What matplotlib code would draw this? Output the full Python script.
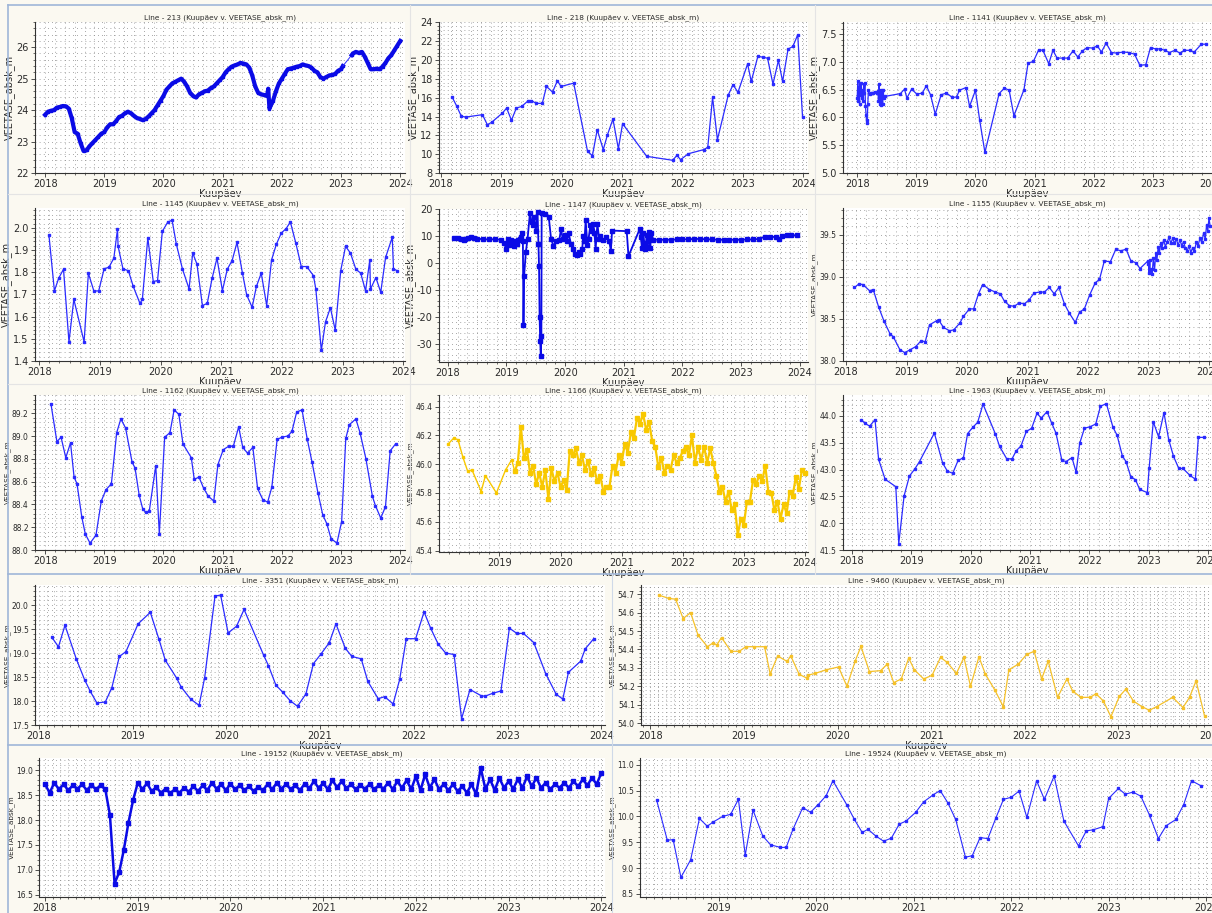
import numpy as np
import matplotlib
matplotlib.use("Agg")
import matplotlib.pyplot as plt
from matplotlib.lines import Line2D
from matplotlib.ticker import MultipleLocator, AutoMinorLocator, FormatStrFormatter

W, H = 1212, 913

# ---- data: (decimal year, VEETASE_absk_m) ----
line213_a = [(2018.00, 23.85), (2018.05, 23.95), (2018.10, 23.98), (2018.15, 24.0), (2018.20, 24.08),
             (2018.25, 24.1), (2018.30, 24.13), (2018.35, 24.12), (2018.40, 24.05), (2018.45, 23.75),
             (2018.50, 23.3), (2018.55, 23.25), (2018.60, 22.95), (2018.65, 22.7), (2018.70, 22.72),
             (2018.75, 22.85), (2018.80, 22.95), (2018.85, 23.05), (2018.90, 23.15), (2018.95, 23.25),
             (2019.00, 23.3), (2019.05, 23.45), (2019.10, 23.55), (2019.15, 23.55), (2019.20, 23.65),
             (2019.25, 23.78), (2019.30, 23.82), (2019.35, 23.9), (2019.40, 23.95), (2019.45, 23.9),
             (2019.50, 23.82), (2019.55, 23.75), (2019.60, 23.72), (2019.65, 23.68), (2019.70, 23.72),
             (2019.75, 23.8), (2019.80, 23.9), (2019.85, 24.0), (2019.90, 24.15), (2019.95, 24.3),
             (2020.00, 24.45), (2020.05, 24.65), (2020.10, 24.75), (2020.15, 24.85), (2020.20, 24.9),
             (2020.25, 24.95), (2020.30, 25.0), (2020.35, 24.9), (2020.40, 24.75), (2020.45, 24.55),
             (2020.50, 24.45), (2020.55, 24.4), (2020.60, 24.5), (2020.65, 24.55), (2020.70, 24.6),
             (2020.75, 24.62), (2020.80, 24.7), (2020.85, 24.75), (2020.90, 24.85), (2020.95, 24.95),
             (2021.00, 25.05), (2021.05, 25.2), (2021.10, 25.3), (2021.15, 25.38), (2021.20, 25.42),
             (2021.25, 25.45), (2021.30, 25.5), (2021.35, 25.48), (2021.40, 25.45), (2021.45, 25.35),
             (2021.50, 25.1), (2021.55, 24.75), (2021.60, 24.55), (2021.65, 24.5), (2021.70, 24.48),
             (2021.75, 24.45), (2021.77, 24.68), (2021.79, 24.05), (2021.85, 24.3), (2021.90, 24.6),
             (2021.95, 24.85), (2022.00, 25.0), (2022.05, 25.15), (2022.10, 25.3), (2022.15, 25.32),
             (2022.20, 25.35), (2022.25, 25.38), (2022.30, 25.4), (2022.35, 25.45), (2022.40, 25.42),
             (2022.45, 25.4), (2022.50, 25.35), (2022.55, 25.25), (2022.60, 25.2), (2022.65, 25.05),
             (2022.70, 25.0), (2022.75, 25.05), (2022.80, 25.1), (2022.85, 25.12), (2022.90, 25.15),
             (2022.95, 25.25), (2023.00, 25.3), (2023.03, 25.4)]
line213_b = [(2023.18, 25.75), (2023.20, 25.8), (2023.25, 25.85), (2023.30, 25.82), (2023.35, 25.85),
             (2023.40, 25.7), (2023.45, 25.5), (2023.50, 25.3), (2023.55, 25.3), (2023.60, 25.32),
             (2023.65, 25.3), (2023.70, 25.38), (2023.75, 25.5), (2023.80, 25.65), (2023.85, 25.75),
             (2023.90, 25.9), (2023.95, 26.05), (2024.00, 26.2)]

line218 = [(2018.19, 16.04), (2018.26, 15.15), (2018.34, 14.02), (2018.42, 13.95), (2018.69, 14.2),
           (2018.77, 13.13), (2018.84, 13.38), (2019.02, 14.37), (2019.09, 14.9), (2019.17, 13.6),
           (2019.25, 14.9), (2019.34, 15.08), (2019.45, 15.7), (2019.5, 15.7), (2019.58, 15.4),
           (2019.68, 15.4), (2019.75, 17.2), (2019.85, 16.6), (2019.93, 17.8), (2019.99, 17.2),
           (2020.2, 17.55), (2020.43, 10.3), (2020.51, 9.84), (2020.59, 12.6), (2020.69, 10.48),
           (2020.76, 12.07), (2020.85, 13.73), (2020.94, 10.58), (2021.01, 13.24), (2021.41, 9.77),
           (2021.84, 9.35), (2021.91, 9.88), (2021.97, 9.42), (2022.1, 10.05), (2022.35, 10.48),
           (2022.42, 10.72), (2022.5, 16.04), (2022.58, 11.54), (2022.76, 16.3), (2022.84, 17.38),
           (2022.92, 16.57), (2023.08, 19.6), (2023.14, 17.73), (2023.25, 20.4), (2023.34, 20.3),
           (2023.41, 20.2), (2023.5, 17.45), (2023.59, 19.96), (2023.66, 17.73), (2023.75, 21.17),
           (2023.83, 21.45), (2023.91, 22.7), (2023.99, 13.9)]

line1141 = [(2018.00, 6.35), (2018.01, 6.65), (2018.02, 6.3), (2018.03, 6.55), (2018.04, 6.25),
            (2018.05, 6.6), (2018.06, 6.4), (2018.07, 6.62), (2018.08, 6.35), (2018.09, 6.5),
            (2018.10, 6.3), (2018.11, 6.6), (2018.12, 6.45), (2018.13, 6.62), (2018.14, 6.2),
            (2018.15, 6.05), (2018.16, 5.9), (2018.17, 5.95), (2018.18, 6.25), (2018.19, 6.5),
            (2018.21, 6.42), (2018.24, 6.45), (2018.27, 6.45), (2018.30, 6.46), (2018.33, 6.45),
            (2018.35, 6.48), (2018.36, 6.3), (2018.37, 6.6), (2018.38, 6.45), (2018.39, 6.25),
            (2018.40, 6.5), (2018.41, 6.22), (2018.42, 6.48), (2018.43, 6.25), (2018.44, 6.5),
            (2018.45, 6.35), (2018.47, 6.38), (2018.73, 6.43), (2018.8, 6.51), (2018.84, 6.35),
            (2018.92, 6.51), (2019.01, 6.42), (2019.1, 6.44), (2019.17, 6.57), (2019.24, 6.41),
            (2019.32, 6.06), (2019.42, 6.41), (2019.51, 6.44), (2019.61, 6.36), (2019.68, 6.37),
            (2019.73, 6.49), (2019.84, 6.54), (2019.9, 6.2), (2020.0, 6.49), (2020.07, 5.96),
            (2020.16, 5.37), (2020.4, 6.43), (2020.49, 6.53), (2020.57, 6.49), (2020.65, 6.03),
            (2020.82, 6.5), (2020.89, 6.98), (2020.98, 7.01), (2021.07, 7.22), (2021.14, 7.21),
            (2021.24, 6.97), (2021.31, 7.21), (2021.38, 7.07), (2021.48, 7.07), (2021.56, 7.07),
            (2021.65, 7.2), (2021.73, 7.09), (2021.81, 7.2), (2021.89, 7.26), (2021.98, 7.25),
            (2022.06, 7.29), (2022.13, 7.18), (2022.21, 7.34), (2022.3, 7.17), (2022.39, 7.16),
            (2022.5, 7.18), (2022.6, 7.17), (2022.69, 7.14), (2022.78, 6.94), (2022.88, 6.95),
            (2022.96, 7.26), (2023.06, 7.23), (2023.12, 7.24), (2023.2, 7.21), (2023.28, 7.17),
            (2023.37, 7.21), (2023.46, 7.16), (2023.53, 7.21), (2023.62, 7.21), (2023.7, 7.18),
            (2023.82, 7.32), (2023.9, 7.32)]

line1145 = [(2018.16, 1.967), (2018.25, 1.716), (2018.32, 1.773), (2018.4, 1.814), (2018.49, 1.486),
            (2018.57, 1.678), (2018.74, 1.486), (2018.81, 1.796), (2018.9, 1.716), (2018.98, 1.716),
            (2019.07, 1.816), (2019.15, 1.823), (2019.23, 1.864), (2019.29, 1.995), (2019.3, 1.917),
            (2019.38, 1.816), (2019.47, 1.807), (2019.55, 1.736), (2019.66, 1.66), (2019.7, 1.678),
            (2019.79, 1.955), (2019.88, 1.758), (2019.95, 1.763), (2020.03, 1.985), (2020.12, 2.027),
            (2020.19, 2.035), (2020.26, 1.927), (2020.36, 1.816), (2020.47, 1.725), (2020.53, 1.887),
            (2020.6, 1.837), (2020.69, 1.65), (2020.77, 1.66), (2020.85, 1.773), (2020.93, 1.864),
            (2021.02, 1.717), (2021.1, 1.814), (2021.18, 1.853), (2021.26, 1.935), (2021.35, 1.796),
            (2021.42, 1.698), (2021.51, 1.642), (2021.58, 1.736), (2021.66, 1.796), (2021.75, 1.65),
            (2021.83, 1.856), (2021.91, 1.927), (2021.99, 1.977), (2022.07, 1.997), (2022.14, 2.027),
            (2022.23, 1.932), (2022.32, 1.826), (2022.41, 1.826), (2022.52, 1.785), (2022.56, 1.725),
            (2022.65, 1.448), (2022.72, 1.577), (2022.8, 1.64), (2022.88, 1.539), (2022.97, 1.807),
            (2023.05, 1.917), (2023.13, 1.887), (2023.22, 1.814), (2023.3, 1.796), (2023.38, 1.716),
            (2023.45, 1.856), (2023.46, 1.724), (2023.55, 1.776), (2023.63, 1.71), (2023.71, 1.867),
            (2023.82, 1.958), (2023.84, 1.816), (2023.9, 1.807)]

line1147 = [(2018.11, 9.3), (2018.17, 9.3), (2018.22, 9.0), (2018.27, 8.4), (2018.3, 8.9), (2018.35, 9.3),
            (2018.4, 9.5), (2018.45, 9.2), (2018.5, 9.0), (2018.6, 8.8), (2018.7, 8.7), (2018.8, 8.8),
            (2018.9, 8.6), (2018.95, 7.5), (2019.0, 5.3), (2019.02, 8.8), (2019.05, 6.8), (2019.08, 8.5),
            (2019.1, 7.5), (2019.13, 6.2), (2019.15, 8.0), (2019.18, 7.0), (2019.2, 8.5), (2019.23, 9.0),
            (2019.25, 9.8), (2019.27, 11.0), (2019.28, 8.0), (2019.29, -23.0), (2019.3, -5.0),
            (2019.33, 4.0), (2019.36, 9.0), (2019.4, 18.5), (2019.43, 15.0), (2019.45, 14.0),
            (2019.47, 17.0), (2019.5, 12.0), (2019.53, 19.0), (2019.545, 7.0), (2019.555, -1.0),
            (2019.565, -20.0), (2019.575, -29.0), (2019.585, -34.5), (2019.595, -27.0), (2019.6, 18.5),
            (2019.65, 18.0), (2019.72, 17.2), (2019.76, 9.0), (2019.8, 6.3), (2019.85, 8.0),
            (2019.9, 8.5), (2019.93, 12.5), (2019.96, 9.0), (2020.0, 10.5), (2020.03, 8.0),
            (2020.06, 11.0), (2020.1, 7.0), (2020.13, 5.0), (2020.16, 3.5), (2020.2, 3.0), (2020.23, 4.0),
            (2020.26, 3.2), (2020.29, 5.0), (2020.31, 10.0), (2020.33, 8.0), (2020.35, 15.8),
            (2020.38, 6.5), (2020.4, 9.0), (2020.43, 14.0), (2020.45, 12.0), (2020.48, 14.5),
            (2020.5, 11.0), (2020.52, 5.2), (2020.55, 14.5), (2020.58, 9.0), (2020.6, 10.0),
            (2020.65, 8.5), (2020.7, 9.5), (2020.75, 8.2), (2020.78, 4.5), (2020.8, 12.0),
            (2021.05, 11.8), (2021.08, 2.5), (2021.27, 12.5), (2021.29, 9.5), (2021.31, 5.5),
            (2021.33, 11.0), (2021.35, 7.5), (2021.37, 5.0), (2021.39, 10.5), (2021.41, 6.0),
            (2021.43, 11.5), (2021.45, 5.5), (2021.47, 11.0), (2021.5, 8.6), (2021.6, 8.6),
            (2021.7, 8.6), (2021.8, 8.6), (2021.9, 8.7), (2022.0, 8.7), (2022.1, 8.8), (2022.2, 8.9),
            (2022.3, 8.9), (2022.4, 8.8), (2022.5, 8.7), (2022.6, 8.6), (2022.7, 8.6), (2022.8, 8.6),
            (2022.9, 8.6), (2023.0, 8.6), (2023.1, 8.7), (2023.2, 8.7), (2023.3, 8.9), (2023.4, 9.7),
            (2023.5, 9.8), (2023.6, 9.5), (2023.65, 8.8), (2023.7, 10.0), (2023.78, 10.2),
            (2023.85, 10.2), (2023.95, 10.3)]

line1155 = [(2018.14, 38.875), (2018.21, 38.915), (2018.28, 38.91), (2018.39, 38.835), (2018.45, 38.85),
            (2018.54, 38.64), (2018.63, 38.47), (2018.73, 38.32), (2018.78, 38.29), (2018.89, 38.135),
            (2018.97, 38.1), (2019.05, 38.13), (2019.15, 38.17), (2019.24, 38.24), (2019.31, 38.23),
            (2019.38, 38.43), (2019.5, 38.48), (2019.53, 38.49), (2019.61, 38.4), (2019.71, 38.36),
            (2019.78, 38.37), (2019.88, 38.45), (2019.94, 38.53), (2020.04, 38.62), (2020.11, 38.62),
            (2020.19, 38.8), (2020.26, 38.91), (2020.37, 38.85), (2020.47, 38.82), (2020.55, 38.8),
            (2020.62, 38.71), (2020.7, 38.66), (2020.78, 38.65), (2020.86, 38.69), (2020.95, 38.68),
            (2021.03, 38.73), (2021.11, 38.81), (2021.2, 38.82), (2021.28, 38.82), (2021.36, 38.875),
            (2021.44, 38.8), (2021.52, 38.875), (2021.61, 38.68), (2021.69, 38.57), (2021.79, 38.46),
            (2021.86, 38.58), (2021.94, 38.62), (2022.03, 38.79), (2022.12, 38.93), (2022.19, 38.97),
            (2022.27, 39.19), (2022.37, 39.18), (2022.46, 39.33), (2022.54, 39.31), (2022.63, 39.33),
            (2022.71, 39.19), (2022.79, 39.17), (2022.86, 39.1), (2022.99, 39.19),
            (2023.00, 39.15), (2023.01, 39.05), (2023.02, 39.2), (2023.03, 39.08), (2023.05, 39.1),
            (2023.06, 39.04), (2023.08, 39.22), (2023.10, 39.08), (2023.12, 39.28), (2023.14, 39.2),
            (2023.16, 39.36), (2023.18, 39.28), (2023.20, 39.4), (2023.22, 39.34), (2023.25, 39.44),
            (2023.28, 39.36), (2023.31, 39.42), (2023.34, 39.47), (2023.37, 39.4), (2023.40, 39.46),
            (2023.43, 39.4), (2023.46, 39.45), (2023.49, 39.38), (2023.52, 39.44), (2023.55, 39.37),
            (2023.58, 39.42), (2023.61, 39.34), (2023.64, 39.31), (2023.67, 39.37), (2023.70, 39.29),
            (2023.73, 39.35), (2023.76, 39.31), (2023.79, 39.41), (2023.82, 39.37), (2023.85, 39.46),
            (2023.88, 39.41), (2023.91, 39.52), (2023.94, 39.45), (2023.96, 39.62), (2023.98, 39.55),
            (2024.00, 39.7), (2024.02, 39.6)]

line1162 = [(2018.1, 89.28), (2018.2, 88.95), (2018.27, 88.99), (2018.35, 88.81), (2018.43, 88.94),
            (2018.49, 88.64), (2018.54, 88.58), (2018.62, 88.29), (2018.68, 88.14), (2018.76, 88.06),
            (2018.86, 88.13), (2018.95, 88.43), (2019.03, 88.53), (2019.12, 88.58), (2019.21, 89.03),
            (2019.28, 89.15), (2019.36, 89.07), (2019.47, 88.77), (2019.52, 88.72), (2019.59, 88.48),
            (2019.65, 88.36), (2019.7, 88.33), (2019.76, 88.34), (2019.87, 88.74), (2019.93, 88.14),
            (2020.02, 88.99), (2020.11, 89.03), (2020.18, 89.23), (2020.26, 89.19), (2020.33, 88.93),
            (2020.47, 88.81), (2020.52, 88.62), (2020.6, 88.64), (2020.68, 88.54), (2020.76, 88.47),
            (2020.85, 88.43), (2020.92, 88.75), (2021.01, 88.88), (2021.1, 88.91), (2021.18, 88.91),
            (2021.27, 89.08), (2021.34, 88.9), (2021.42, 88.85), (2021.51, 88.9), (2021.59, 88.54),
            (2021.68, 88.44), (2021.76, 88.42), (2021.83, 88.55), (2021.92, 88.97), (2022.0, 88.99),
            (2022.1, 89.0), (2022.17, 89.04), (2022.25, 89.21), (2022.34, 89.23), (2022.43, 88.97),
            (2022.51, 88.77), (2022.61, 88.5), (2022.69, 88.31), (2022.76, 88.23), (2022.83, 88.1),
            (2022.93, 88.06), (2023.01, 88.25), (2023.08, 88.98), (2023.14, 89.1), (2023.25, 89.15),
            (2023.32, 89.03), (2023.42, 88.8), (2023.53, 88.47), (2023.58, 88.39), (2023.67, 88.28),
            (2023.75, 88.38), (2023.83, 88.87), (2023.92, 88.93)]

line1166_sparse = [(2018.16, 46.14), (2018.25, 46.18), (2018.32, 46.17), (2018.4, 46.05), (2018.48, 45.95),
                   (2018.55, 45.96), (2018.7, 45.81), (2018.77, 45.92), (2018.95, 45.8), (2019.1, 45.96),
                   (2019.2, 46.03), (2019.25, 45.95)]
# logger series 2019.25 .. 2024.0, even spacing
line1166_dense = [45.95, 46.01, 46.26, 46.04, 46.10, 45.94, 45.99, 45.86, 45.94, 45.84, 45.96, 45.76,
                  45.97, 45.88, 45.94, 45.84, 45.89, 45.82, 46.09, 46.06, 46.11, 46.01, 46.06, 45.96,
                  46.02, 45.93, 45.97, 45.88, 45.92, 45.81, 45.84, 45.84, 45.99, 45.94, 46.06, 46.01,
                  46.14, 46.08, 46.22, 46.18, 46.32, 46.28, 46.35, 46.24, 46.29, 46.16, 46.12, 45.98,
                  46.04, 45.94, 45.99, 45.96, 46.06, 46.01, 46.04, 46.09, 46.12, 46.06, 46.20, 46.01,
                  46.12, 46.03, 46.12, 46.01, 46.11, 46.01, 45.92, 45.81, 45.84, 45.74, 45.81, 45.68,
                  45.72, 45.51, 45.62, 45.58, 45.74, 45.74, 45.89, 45.86, 45.92, 45.88, 45.99, 45.81,
                  45.80, 45.68, 45.74, 45.62, 45.72, 45.66, 45.81, 45.78, 45.91, 45.83, 45.96, 45.94]

line1963 = [(2018.16, 43.93), (2018.22, 43.86), (2018.3, 43.81), (2018.39, 43.93), (2018.45, 43.19),
            (2018.56, 42.82), (2018.74, 42.68), (2018.79, 41.62), (2018.88, 42.51), (2018.97, 42.88),
            (2019.06, 43.01), (2019.14, 43.15), (2019.39, 43.68), (2019.53, 43.12), (2019.61, 42.97),
            (2019.7, 42.93), (2019.79, 43.17), (2019.88, 43.22), (2019.95, 43.67), (2020.04, 43.79),
            (2020.12, 43.88), (2020.21, 44.22), (2020.42, 43.66), (2020.49, 43.43), (2020.61, 43.2),
            (2020.7, 43.2), (2020.77, 43.35), (2020.85, 43.44), (2020.94, 43.71), (2021.03, 43.77),
            (2021.12, 44.05), (2021.19, 43.96), (2021.29, 44.08), (2021.37, 43.86), (2021.44, 43.68),
            (2021.54, 43.17), (2021.61, 43.15), (2021.71, 43.22), (2021.78, 42.95), (2021.84, 43.49),
            (2021.92, 43.77), (2022.02, 43.8), (2022.11, 43.85), (2022.19, 44.18), (2022.29, 44.23),
            (2022.4, 43.79), (2022.47, 43.64), (2022.56, 43.25), (2022.62, 43.15), (2022.7, 42.87),
            (2022.78, 42.81), (2022.85, 42.63), (2022.98, 42.57), (2023.01, 43.02), (2023.08, 43.89),
            (2023.17, 43.61), (2023.26, 44.06), (2023.34, 43.56), (2023.42, 43.25), (2023.51, 43.02),
            (2023.58, 43.02), (2023.7, 42.89), (2023.79, 42.82), (2023.84, 43.6), (2023.93, 43.6)]

line3351 = [(2018.14, 19.33), (2018.21, 19.13), (2018.28, 19.58), (2018.4, 18.88), (2018.49, 18.44),
            (2018.55, 18.2), (2018.62, 17.96), (2018.71, 17.98), (2018.78, 18.28), (2018.86, 18.93),
            (2018.93, 19.03), (2019.06, 19.61), (2019.19, 19.85), (2019.28, 19.3), (2019.35, 18.85),
            (2019.47, 18.48), (2019.52, 18.29), (2019.62, 18.04), (2019.71, 17.91), (2019.77, 18.49),
            (2019.88, 20.19), (2019.94, 20.21), (2020.02, 19.42), (2020.11, 19.56), (2020.19, 19.91),
            (2020.4, 18.95), (2020.45, 18.74), (2020.53, 18.33), (2020.6, 18.19), (2020.68, 18.01),
            (2020.76, 17.89), (2020.85, 18.15), (2020.93, 18.78), (2021.01, 18.98), (2021.1, 19.22),
            (2021.17, 19.61), (2021.27, 19.1), (2021.34, 18.93), (2021.44, 18.88), (2021.51, 18.41),
            (2021.62, 18.05), (2021.69, 18.09), (2021.78, 17.94), (2021.85, 18.45), (2021.92, 19.3),
            (2022.02, 19.3), (2022.11, 19.86), (2022.18, 19.52), (2022.26, 19.19), (2022.34, 19.0),
            (2022.43, 18.97), (2022.51, 17.63), (2022.6, 18.24), (2022.72, 18.11), (2022.76, 18.1),
            (2022.84, 18.16), (2022.93, 18.21), (2023.02, 19.52), (2023.1, 19.41), (2023.17, 19.41),
            (2023.28, 19.22), (2023.41, 18.56), (2023.52, 18.14), (2023.59, 18.04), (2023.65, 18.6),
            (2023.78, 18.83), (2023.83, 19.09), (2023.92, 19.3)]

line9460 = [(2018.09, 54.695), (2018.2, 54.677), (2018.27, 54.673), (2018.35, 54.568), (2018.43, 54.6),
            (2018.51, 54.477), (2018.61, 54.415), (2018.67, 54.436), (2018.71, 54.424), (2018.76, 54.465),
            (2018.86, 54.39), (2018.95, 54.39), (2019.02, 54.415), (2019.11, 54.415), (2019.22, 54.415),
            (2019.28, 54.267), (2019.36, 54.365), (2019.46, 54.335), (2019.5, 54.365), (2019.59, 54.265),
            (2019.67, 54.245), (2019.68, 54.26), (2019.76, 54.27), (2019.88, 54.29), (2020.01, 54.305),
            (2020.1, 54.2), (2020.19, 54.34), (2020.25, 54.417), (2020.34, 54.28), (2020.46, 54.285),
            (2020.53, 54.32), (2020.6, 54.22), (2020.68, 54.24), (2020.76, 54.353), (2020.82, 54.29),
            (2020.92, 54.24), (2021.01, 54.26), (2021.1, 54.357), (2021.17, 54.33), (2021.27, 54.27),
            (2021.35, 54.357), (2021.42, 54.2), (2021.51, 54.36), (2021.58, 54.265), (2021.68, 54.18),
            (2021.77, 54.09), (2021.83, 54.29), (2021.93, 54.32), (2022.02, 54.373), (2022.1, 54.39),
            (2022.18, 54.24), (2022.25, 54.337), (2022.35, 54.14), (2022.45, 54.24), (2022.51, 54.175),
            (2022.6, 54.14), (2022.7, 54.14), (2022.76, 54.16), (2022.84, 54.12), (2022.92, 54.035),
            (2023.01, 54.145), (2023.08, 54.185), (2023.16, 54.12), (2023.25, 54.09), (2023.33, 54.07),
            (2023.41, 54.09), (2023.58, 54.14), (2023.69, 54.085), (2023.76, 54.14), (2023.83, 54.23),
            (2023.92, 54.04)]

# logger series 2018.0 .. 2024.0, even spacing
line19152 = [18.72, 18.55, 18.75, 18.62, 18.72, 18.6, 18.7, 18.63, 18.72, 18.6, 18.7, 18.62, 18.7, 18.62,
             18.1, 16.72, 16.95, 17.4, 17.95, 18.4, 18.75, 18.62, 18.74, 18.58, 18.66, 18.55, 18.63,
             18.54, 18.62, 18.55, 18.65, 18.57, 18.68, 18.58, 18.7, 18.6, 18.75, 18.63, 18.72, 18.6,
             18.73, 18.62, 18.7, 18.6, 18.68, 18.58, 18.67, 18.6, 18.72, 18.62, 18.75, 18.63, 18.72,
             18.62, 18.7, 18.6, 18.73, 18.64, 18.78, 18.65, 18.74, 18.62, 18.8, 18.66, 18.78, 18.64,
             18.72, 18.62, 18.7, 18.63, 18.72, 18.62, 18.7, 18.63, 18.75, 18.62, 18.78, 18.65, 18.8,
             18.62, 18.88, 18.6, 18.92, 18.65, 18.82, 18.62, 18.72, 18.6, 18.72, 18.58, 18.68, 18.55,
             18.72, 18.52, 19.05, 18.62, 18.82, 18.6, 18.85, 18.65, 18.78, 18.63, 18.82, 18.65, 18.88,
             18.68, 18.85, 18.65, 18.75, 18.62, 18.72, 18.65, 18.75, 18.65, 18.78, 18.68, 18.82, 18.7,
             18.85, 18.72, 18.95]

line19524 = [(2018.36, 10.32), (2018.47, 9.54), (2018.53, 9.55), (2018.61, 8.82), (2018.71, 9.16),
             (2018.8, 9.96), (2018.88, 9.81), (2018.94, 9.89), (2019.04, 10.0), (2019.12, 10.04),
             (2019.2, 10.33), (2019.27, 9.25), (2019.35, 10.12), (2019.45, 9.62), (2019.53, 9.45),
             (2019.63, 9.4), (2019.69, 9.4), (2019.76, 9.75), (2019.86, 10.17), (2019.94, 10.08),
             (2020.02, 10.23), (2020.1, 10.4), (2020.17, 10.69), (2020.31, 10.23), (2020.39, 9.94),
             (2020.47, 9.69), (2020.53, 9.75), (2020.61, 9.62), (2020.69, 9.52), (2020.77, 9.58),
             (2020.85, 9.85), (2020.92, 9.91), (2021.02, 10.08), (2021.1, 10.28), (2021.2, 10.42),
             (2021.27, 10.5), (2021.35, 10.26), (2021.43, 9.94), (2021.53, 9.21), (2021.6, 9.24),
             (2021.68, 9.59), (2021.76, 9.57), (2021.84, 9.96), (2021.92, 10.33), (2022.0, 10.37),
             (2022.08, 10.49), (2022.16, 9.98), (2022.26, 10.69), (2022.34, 10.33), (2022.44, 10.78),
             (2022.54, 9.91), (2022.69, 9.43), (2022.77, 9.72), (2022.84, 9.74), (2022.94, 9.8),
             (2023.0, 10.35), (2023.1, 10.54), (2023.17, 10.43), (2023.25, 10.47), (2023.33, 10.39),
             (2023.42, 10.02), (2023.51, 9.57), (2023.59, 9.82), (2023.69, 9.94), (2023.77, 10.23),
             (2023.85, 10.69), (2023.95, 10.59)]

BLUE = "#2a2aff"
DEEP = "#0a0ae6"
YELLOW = "#f8c800"
TXT = "#2a2a2a"

fig = plt.figure(figsize=(W / 100, H / 100), dpi=100, facecolor="#fbf9f1")


def make_ax(rect, name, xlim, ylim, ystep, yfmt, minor_x=6, big=True):
    l, t, r, b = rect
    ax = fig.add_axes([l / W, 1 - b / H, (r - l) / W, (b - t) / H])
    ax.set_facecolor("white")
    ax.set_xlim(*xlim)
    ax.set_ylim(*ylim)
    ax.xaxis.set_major_locator(MultipleLocator(1))
    ax.xaxis.set_major_formatter(FormatStrFormatter("%d"))
    ax.xaxis.set_minor_locator(AutoMinorLocator(minor_x))
    ax.yaxis.set_major_locator(MultipleLocator(ystep))
    ax.yaxis.set_major_formatter(FormatStrFormatter(yfmt))
    ax.yaxis.set_minor_locator(AutoMinorLocator(5))
    for s in ("top", "right"):
        ax.spines[s].set_visible(False)
    for s in ("left", "bottom"):
        ax.spines[s].set_color("#333333")
        ax.spines[s].set_linewidth(0.8)
    ax.grid(True, which="both", color="#8a8a8a", linestyle=(0, (1, 4)), linewidth=0.6)
    ax.set_axisbelow(True)
    fs = 7 if big else 5.5
    ax.tick_params(axis="both", which="major", labelsize=fs, length=3, width=0.6,
                   colors="#333333", labelcolor=TXT, pad=1.5)
    ax.tick_params(axis="both", which="minor", length=1.5, width=0.5, colors="#333333")
    ax.tick_params(axis="x", labelsize=7, pad=1.5)
    ax.set_title("Line - %s (Kuupäev v. VEETASE_absk_m)" % name, fontsize=5.3, color=TXT, pad=2)
    ax.set_xlabel("Kuupäev", fontsize=7, color=TXT, labelpad=0)
    ax.set_ylabel("VEETASE_absk_m", fontsize=7 if big else 5.2, color=TXT, labelpad=1)
    return ax


def draw(ax, pts, color=BLUE, lw=0.9, ms=2.0):
    x, y = zip(*pts)
    ax.plot(x, y, color=color, lw=lw, marker="s", ms=ms, mec=color, mfc=color)


# row 1
ax = make_ax((35, 22, 405, 173), "213", (2017.83, 2024.08), (22, 26.8), 1, "%d")
draw(ax, line213_a, DEEP, lw=3.0, ms=2.0)
xa, ya = zip(*line213_a)
xb, yb = zip(*line213_b)
ax.plot([xa[-1], xb[0]], [ya[-1], yb[0]], color=BLUE, lw=0.7)
draw(ax, line213_b, DEEP, lw=3.0, ms=2.0)

ax = make_ax((439, 22, 808, 173), "218", (2017.97, 2024.08), (8, 24.05), 2, "%d")
draw(ax, line218)

ax = make_ax((843, 22, 1212, 173), "1141", (2017.76, 2024.0), (5.0, 7.72), 0.5, "%.1f")
draw(ax, line1141)

# row 2
ax = make_ax((35, 208, 405, 361), "1145", (2017.93, 2024.03), (1.4, 2.09), 0.1, "%.1f")
draw(ax, line1145)

ax = make_ax((439, 209, 808, 362), "1147", (2017.85, 2024.14), (-36.7, 20), 10, "%d")
draw(ax, line1147, DEEP, lw=1.3, ms=2.2)

ax = make_ax((843, 208, 1212, 361), "1155", (2017.95, 2024.05), (38.0, 39.82), 0.5, "%.1f", big=False)
draw(ax, line1155)

# row 3
ax = make_ax((35, 395, 405, 550), "1162", (2017.83, 2024.08), (88.0, 89.36), 0.2, "%.1f", big=False)
draw(ax, line1162)

ax = make_ax((439, 395, 808, 552), "1166", (2018.01, 2024.05), (45.39, 46.48), 0.2, "%.1f", big=False)
draw(ax, line1166_sparse, YELLOW, lw=1.0, ms=1.8)
xd = np.linspace(2019.25, 2024.0, len(line1166_dense))
ax.plot(xd, line1166_dense, color=YELLOW, lw=1.6, marker="s", ms=2.2, mec=YELLOW, mfc=YELLOW)

ax = make_ax((843, 395, 1212, 550), "1963", (2017.85, 2024.07), (41.5, 44.39), 0.5, "%.1f", big=False)
draw(ax, line1963)

# row 4
ax = make_ax((35, 585, 605, 725), "3351", (2017.96, 2024.04), (17.5, 20.42), 0.5, "%.1f",
             minor_x=12, big=False)
draw(ax, line3351)

ax = make_ax((641, 585, 1212, 725), "9460", (2017.9, 2024.0), (53.99, 54.75), 0.1, "%.1f",
             minor_x=12, big=False)
draw(ax, line9460, "#f5c12a", lw=0.9, ms=1.8)

# row 5
ax = make_ax((39, 758, 605, 897), "19152", (2017.935, 2024.04), (16.45, 19.25), 0.5, "%.1f",
             minor_x=12, big=False)
xd = np.linspace(2018.0, 2024.0, len(line19152))
ax.plot(xd, line19152, color=DEEP, lw=1.8, marker="s", ms=2.4, mec=DEEP, mfc=DEEP)

ax = make_ax((640, 758, 1212, 897), "19524", (2018.19, 2024.06), (8.44, 11.13), 0.5, "%.1f",
             minor_x=12, big=False)
draw(ax, line19524, lw=0.8, ms=1.6)


# panel frames
def frame_line(x0, y0, x1, y1, color="#9fb6d8", lw=1.2):
    fig.add_artist(Line2D([x0 / W, x1 / W], [1 - y0 / H, 1 - y1 / H],
                          transform=fig.transFigure, color=color, lw=lw))


frame_line(8, 5, 1212, 5)
frame_line(8, 5, 8, 913)
frame_line(8, 574, 1212, 574)
frame_line(8, 745, 1212, 745)
frame_line(612, 574, 612, 913, color="#cfd9e8", lw=0.8)
frame_line(410, 5, 410, 574, color="#e4e4e4", lw=0.8)
frame_line(815, 5, 815, 574, color="#e4e4e4", lw=0.8)
frame_line(8, 194, 1212, 194, color="#e4e4e4", lw=0.8)
frame_line(8, 384, 1212, 384, color="#e4e4e4", lw=0.8)

fig.savefig("out.png", dpi=100, facecolor=fig.get_facecolor())
